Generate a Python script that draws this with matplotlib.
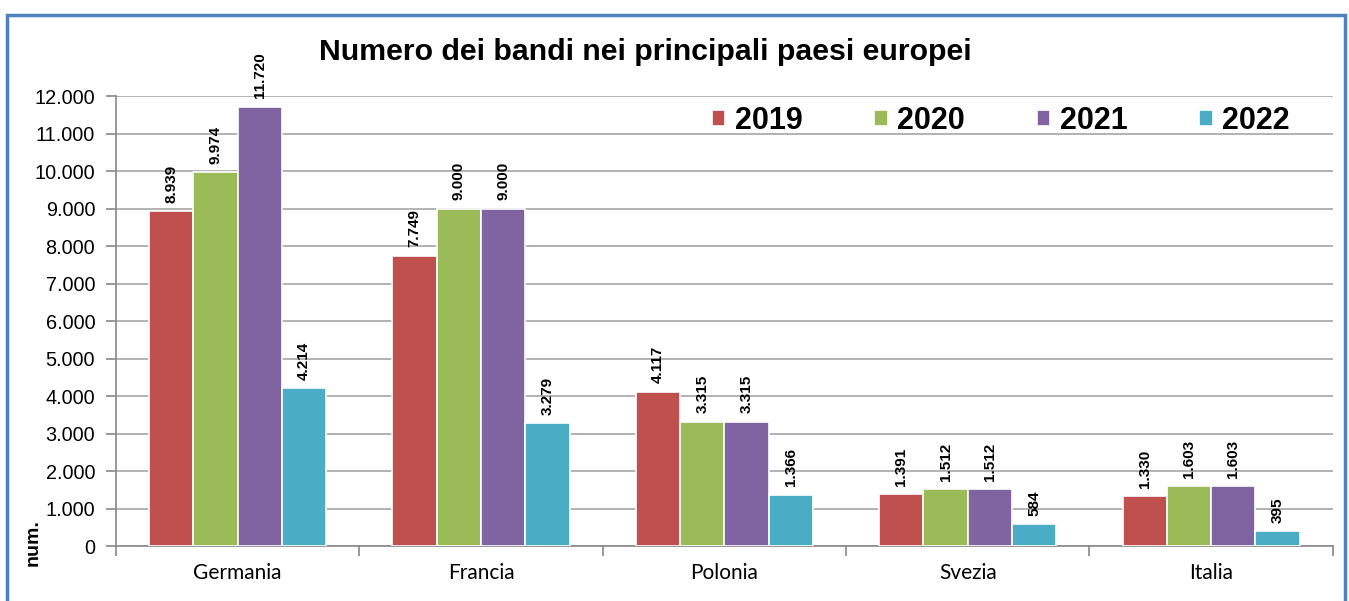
import numpy as np
import matplotlib
matplotlib.use('Agg')
import matplotlib.pyplot as plt
from matplotlib.patches import Rectangle

# dati
paesi = ['Germania', 'Francia', 'Polonia', 'Svezia', 'Italia']
anni = ['2019', '2020', '2021', '2022']
v2019 = [8939, 7749, 4117, 1391, 1330]
v2020 = [9974, 9000, 3315, 1512, 1603]
v2021 = [11720, 9000, 3315, 1512, 1603]
v2022 = [4214, 3279, 1366, 584, 395]
serie = [v2019, v2020, v2021, v2022]
colori = ['#C0504D', '#9BBB59', '#8064A2', '#4BACC6']
yticks = list(range(0, 12001, 1000))

def fmt(v):
    return f'{v:,}'.replace(',', '.')

plt.rcParams['font.family'] = ['Liberation Sans', 'DejaVu Sans']

fig = plt.figure(figsize=(13.49, 6.01), dpi=100)
ax = fig.add_axes([0.086, 0.0915, 0.902, 0.7485])

x = np.arange(len(paesi))
w = 0.182
for i, (vals, c) in enumerate(zip(serie, colori)):
    pos = x + (i - 1.5) * w
    ax.bar(pos, vals, width=w, color=c, edgecolor='white', linewidth=1.2,
           label=anni[i], zorder=3)
    for p, v in zip(pos, vals):
        ax.annotate(fmt(v), (p, v), xytext=(0, 6), textcoords='offset points',
                    rotation=90, ha='center', va='bottom', fontsize=11,
                    fontweight='bold', zorder=4)

ax.set_xlim(-0.5, len(paesi) - 0.5)
ax.set_ylim(0, 12000)
ax.set_yticks(yticks)
ax.set_yticklabels([fmt(t) for t in yticks], fontsize=14.3)
ax.yaxis.grid(True, color='#A6A6A6', linewidth=1.2, zorder=0)
ax.set_axisbelow(True)

ax.set_xticks(x)
ax.set_xticklabels(paesi, fontsize=15, family=['Lato', 'DejaVu Sans'])
ax.set_xticks(np.arange(-0.5, len(paesi)), minor=True)
ax.tick_params(axis='x', which='major', length=0, pad=12)
ax.tick_params(axis='x', which='minor', length=7, color='#888888', width=1.2)
ax.tick_params(axis='y', length=7, color='#888888', width=1.2, pad=8)

for s in ['top', 'right']:
    ax.spines[s].set_visible(False)
ax.spines['left'].set_color('#888888')
ax.spines['bottom'].set_color('#888888')
ax.spines['left'].set_linewidth(1.2)
ax.spines['bottom'].set_linewidth(1.2)

ax.text(-0.068, -0.045, 'num.', transform=ax.transAxes, rotation=90,
        ha='center', va='bottom', fontsize=14, fontweight='bold')

fig.text(0.478, 0.913, 'Numero dei bandi nei principali paesi europei',
         ha='center', va='center', fontsize=21.8, fontweight='bold')

ax.legend(loc='center', bbox_to_anchor=(0.727, 0.945), ncol=4, frameon=False,
          prop={'weight': 'bold', 'size': 22},
          handlelength=0.45, handleheight=0.45, handletextpad=0.3,
          columnspacing=2.35, borderpad=0.1)

# bordo blu
fig.patches.append(Rectangle((7 / 1349, -0.05), 1338 / 1349, 1.05 - 15 / 601,
                             transform=fig.transFigure, fill=False,
                             edgecolor='#4F81BD', linewidth=2.5, zorder=10))

fig.savefig('out.png', dpi=100)
